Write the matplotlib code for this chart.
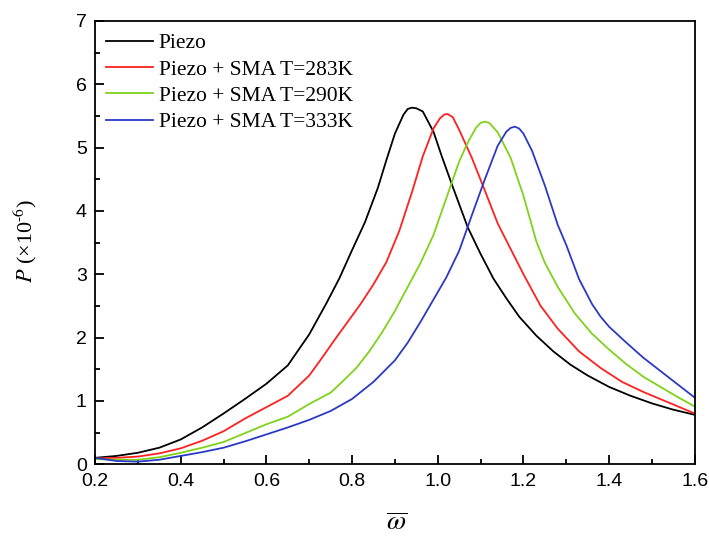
import matplotlib
matplotlib.use("Agg")
import matplotlib.pyplot as plt
from matplotlib.ticker import MultipleLocator, FormatStrFormatter

plt.rcParams['mathtext.fontset'] = 'stix'

# Piezo (black)
x_piezo = [0.20, 0.25, 0.30, 0.35, 0.40, 0.45, 0.50, 0.55, 0.60, 0.65, 0.70, 0.74,
           0.77, 0.80, 0.83, 0.86, 0.88, 0.90, 0.92, 0.93, 0.94, 0.95, 0.965, 0.99,
           1.01, 1.035, 1.07, 1.10, 1.13, 1.16, 1.19, 1.23, 1.27, 1.31, 1.35, 1.40,
           1.45, 1.50, 1.55, 1.60]
p_piezo = [0.10, 0.13, 0.18, 0.26, 0.39, 0.58, 0.80, 1.03, 1.27, 1.56, 2.05, 2.54,
           2.93, 3.38, 3.82, 4.36, 4.80, 5.22, 5.52, 5.61, 5.63, 5.62, 5.57, 5.25,
           4.85, 4.38, 3.74, 3.32, 2.93, 2.62, 2.33, 2.03, 1.78, 1.57, 1.40, 1.22,
           1.08, 0.96, 0.86, 0.78]

# Piezo + SMA T=283K (red)
x_283 = [0.20, 0.25, 0.30, 0.35, 0.40, 0.45, 0.50, 0.55, 0.60, 0.65, 0.70, 0.73,
         0.76, 0.79, 0.82, 0.85, 0.88, 0.91, 0.94, 0.965, 0.99, 1.005, 1.015, 1.023,
         1.035, 1.05, 1.08, 1.11, 1.14, 1.17, 1.20, 1.24, 1.28, 1.33, 1.38, 1.43,
         1.48, 1.54, 1.60]
p_283 = [0.09, 0.10, 0.12, 0.17, 0.25, 0.37, 0.52, 0.72, 0.90, 1.08, 1.40, 1.68,
         1.97, 2.25, 2.53, 2.84, 3.19, 3.68, 4.30, 4.86, 5.30, 5.46, 5.52, 5.53,
         5.48, 5.28, 4.83, 4.32, 3.80, 3.40, 3.00, 2.50, 2.14, 1.78, 1.52, 1.30,
         1.14, 0.97, 0.80]

# Piezo + SMA T=290K (green)
x_290 = [0.20, 0.25, 0.30, 0.35, 0.40, 0.45, 0.50, 0.55, 0.60, 0.65, 0.70, 0.75,
         0.78, 0.81, 0.84, 0.87, 0.90, 0.93, 0.96, 0.99, 1.02, 1.05, 1.07, 1.09,
         1.10, 1.11, 1.12, 1.14, 1.17, 1.20, 1.23, 1.25, 1.28, 1.32, 1.36, 1.40,
         1.44, 1.48, 1.52, 1.56, 1.60]
p_290 = [0.08, 0.07, 0.07, 0.11, 0.18, 0.26, 0.35, 0.49, 0.63, 0.75, 0.95, 1.13,
         1.32, 1.52, 1.78, 2.08, 2.42, 2.80, 3.18, 3.62, 4.20, 4.78, 5.08, 5.32,
         5.39, 5.41, 5.39, 5.24, 4.84, 4.24, 3.52, 3.18, 2.80, 2.38, 2.06, 1.81,
         1.58, 1.38, 1.22, 1.06, 0.91]

# Piezo + SMA T=333K (blue)
x_333 = [0.20, 0.25, 0.30, 0.35, 0.40, 0.45, 0.50, 0.55, 0.60, 0.65, 0.70, 0.75,
         0.80, 0.85, 0.90, 0.93, 0.96, 0.99, 1.02, 1.05, 1.08, 1.11, 1.14, 1.16,
         1.17, 1.18, 1.19, 1.20, 1.22, 1.25, 1.28, 1.30, 1.33, 1.36, 1.38, 1.40,
         1.44, 1.48, 1.52, 1.56, 1.60]
p_333 = [0.10, 0.05, 0.04, 0.07, 0.13, 0.19, 0.26, 0.36, 0.47, 0.58, 0.70, 0.84,
         1.03, 1.30, 1.64, 1.92, 2.25, 2.60, 2.95, 3.37, 3.94, 4.50, 5.03, 5.25,
         5.31, 5.33, 5.30, 5.22, 4.95, 4.40, 3.78, 3.46, 2.92, 2.53, 2.33, 2.17,
         1.92, 1.68, 1.47, 1.26, 1.05]

labels = ['Piezo', 'Piezo + SMA T=283K', 'Piezo + SMA T=290K', 'Piezo + SMA T=333K']
colors = ['black', '#ff2020', '#7fd21a', '#2a3ac4']

fig = plt.figure(figsize=(7.09, 5.36), dpi=100)
ax = fig.add_axes([0.134, 0.134, 0.846, 0.827])

series = [(x_piezo, p_piezo), (x_283, p_283), (x_290, p_290), (x_333, p_333)]
for (xs, ps), lab, col in zip(series, labels, colors):
    ax.plot(xs, ps, color=col, lw=1.3, label=lab)

ax.set_xlim(0.2, 1.6)
ax.set_ylim(0, 7)
ax.xaxis.set_major_locator(MultipleLocator(0.2))
ax.xaxis.set_minor_locator(MultipleLocator(0.1))
ax.yaxis.set_major_locator(MultipleLocator(1))
ax.yaxis.set_minor_locator(MultipleLocator(0.5))
ax.xaxis.set_major_formatter(FormatStrFormatter('%.1f'))

ax.tick_params(which='both', direction='in', width=1.3, top=False, right=False,
               labelsize=14)
ax.tick_params(which='major', length=6.5, pad=6)
ax.tick_params(which='minor', length=3.5)
for lab in ax.get_xticklabels() + ax.get_yticklabels():
    lab.set_fontfamily('Liberation Sans')
for sp in ax.spines.values():
    sp.set_linewidth(1.3)

ax.set_xlabel(r'$\overline{\omega}$', fontsize=20)
ax.xaxis.set_label_coords(0.503, -0.100)
ax.set_ylabel(r'$P$ (×10$^{\text{-}6}$)', fontsize=16, family='Liberation Serif')
ax.yaxis.set_label_coords(-0.093, 0.503)

ax.legend(loc='upper left', bbox_to_anchor=(0.018, 0.972), frameon=False,
          handlelength=2.2, handletextpad=0.25, labelspacing=0.29,
          borderaxespad=0, borderpad=0,
          prop={'family': 'Liberation Serif', 'size': 15.5})

fig.savefig('out.png', dpi=100)
